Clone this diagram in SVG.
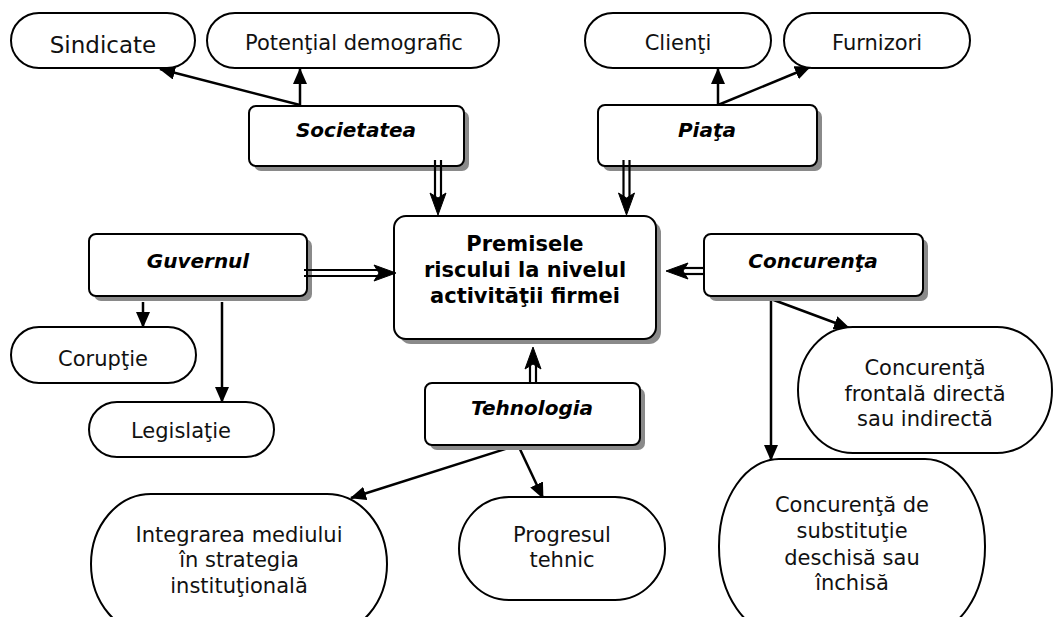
<svg xmlns="http://www.w3.org/2000/svg" width="1057" height="617" viewBox="0 0 1057 617">
  <style>
    .pill { fill: #fff; stroke: #000; stroke-width: 2; }
    .box { fill: #fff; stroke: #000; stroke-width: 2; }
    .shadow { fill: #8a8a8a; }
    .lbl { font-family: "DejaVu Sans", Verdana, sans-serif; font-size: 21px; fill: #111; text-anchor: middle; }
    .head { font-family: "DejaVu Sans", Verdana, sans-serif; font-size: 20px; font-weight: bold; font-style: italic; fill: #000; text-anchor: middle; }
    .core { font-family: "DejaVu Sans", Verdana, sans-serif; font-size: 21px; font-weight: bold; fill: #000; text-anchor: middle; }
    .link { stroke: #000; stroke-width: 2.5; fill: none; marker-end: url(#tri); }
    .rail { stroke: #000; stroke-width: 2.2; fill: none; }
    .barb { fill: #000; stroke: #000; stroke-width: 1; stroke-linejoin: round; }
  </style>
  <defs>
    <marker id="tri" viewBox="0 0 16 14" refX="15" refY="7" markerWidth="16" markerHeight="14" markerUnits="userSpaceOnUse" orient="auto">
      <path d="M0,0 L16,7 L0,14 Z" fill="#000"/>
    </marker>
    <!-- notched head for double-line arrows, tip at origin pointing +x -->
    <path id="dblhead" d="M0,0 L-22,-8 L-17,0 L-22,8 Z"/>
  </defs>

  <rect width="1057" height="617" fill="#fff"/>

  <!-- connectors -->
  <g id="connectors">
    <!-- Societatea -->
    <line class="link" x1="300" y1="105" x2="160" y2="69"/>
    <line class="link" x1="300" y1="105" x2="300" y2="69"/>
    <!-- Piata -->
    <line class="link" x1="718" y1="105" x2="718" y2="69"/>
    <line class="link" x1="718" y1="105" x2="810" y2="67"/>
    <!-- Guvernul -->
    <line class="link" x1="143" y1="302" x2="143" y2="327"/>
    <line class="link" x1="222" y1="302" x2="222" y2="402"/>
    <!-- Concurenta -->
    <line class="link" x1="771" y1="299" x2="771" y2="460"/>
    <line class="link" x1="771" y1="299" x2="849" y2="328"/>
    <!-- Tehnologia -->
    <line class="link" x1="518" y1="445" x2="351" y2="498"/>
    <line class="link" x1="518" y1="445" x2="543" y2="498"/>
  </g>

  <!-- central node -->
  <g id="premise">
    <rect class="shadow" x="399" y="221" width="262" height="123" rx="12"/>
    <rect class="box" x="394" y="216" width="262" height="123" rx="12"/>
    <text class="core" x="525" y="251">Premisele</text>
    <text class="core" x="525" y="277">riscului la nivelul</text>
    <text class="core" x="525" y="303">activităţii firmei</text>
  </g>

  <!-- factor nodes -->
  <g id="societatea">
    <rect class="shadow" x="254" y="111" width="215" height="60" rx="7"/>
    <rect class="box" x="249" y="106" width="215" height="60" rx="7"/>
    <text class="head" x="356" y="137">Societatea</text>
  </g>
  <g id="piata">
    <rect class="shadow" x="603" y="110" width="219" height="61" rx="7"/>
    <rect class="box" x="598" y="105" width="219" height="61" rx="7"/>
    <text class="head" x="707" y="137">Piaţa</text>
  </g>
  <g id="guvernul">
    <rect class="shadow" x="94" y="239" width="218" height="62" rx="7"/>
    <rect class="box" x="89" y="234" width="218" height="62" rx="7"/>
    <text class="head" x="198" y="268">Guvernul</text>
  </g>
  <g id="concurenta">
    <rect class="shadow" x="709" y="239" width="219" height="62" rx="7"/>
    <rect class="box" x="704" y="234" width="219" height="62" rx="7"/>
    <text class="head" x="813" y="268">Concurenţa</text>
  </g>
  <g id="tehnologia">
    <rect class="shadow" x="430" y="388" width="215" height="62" rx="7"/>
    <rect class="box" x="425" y="383" width="215" height="62" rx="7"/>
    <text class="head" x="532" y="415">Tehnologia</text>
  </g>

  <!-- double-line arrows into the central node -->
  <g id="double-arrows">
    <g id="dbl-soc">
      <line class="rail" x1="435" y1="160" x2="435" y2="200"/>
      <line class="rail" x1="441" y1="160" x2="441" y2="200"/>
      <use href="#dblhead" class="barb" transform="translate(438,215) rotate(90)"/>
    </g>
    <g id="dbl-pia">
      <line class="rail" x1="623.5" y1="160" x2="623.5" y2="200"/>
      <line class="rail" x1="629.5" y1="160" x2="629.5" y2="200"/>
      <use href="#dblhead" class="barb" transform="translate(626.5,215) rotate(90)"/>
    </g>
    <g id="dbl-guv">
      <line class="rail" x1="304" y1="270" x2="381" y2="270"/>
      <line class="rail" x1="304" y1="276" x2="381" y2="276"/>
      <use href="#dblhead" class="barb" transform="translate(396,273)"/>
    </g>
    <g id="dbl-con">
      <line class="rail" x1="704" y1="268" x2="681" y2="268"/>
      <line class="rail" x1="704" y1="274" x2="681" y2="274"/>
      <use href="#dblhead" class="barb" transform="translate(666,271) rotate(180)"/>
    </g>
    <g id="dbl-teh">
      <line class="rail" x1="530" y1="384" x2="530" y2="362"/>
      <line class="rail" x1="536" y1="384" x2="536" y2="362"/>
      <use href="#dblhead" class="barb" transform="translate(533,347) rotate(-90)"/>
    </g>
  </g>

  <!-- leaf nodes -->
  <g id="sindicate">
    <rect class="pill" x="11" y="13" width="184" height="55" rx="28" ry="27.5"/>
    <text class="lbl" x="103" y="53" style="font-size:23px">Sindicate</text>
  </g>
  <g id="potential">
    <rect class="pill" x="207" y="13" width="292" height="55" rx="28" ry="27.5"/>
    <text class="lbl" x="354" y="50">Potenţial demografic</text>
  </g>
  <g id="clienti">
    <rect class="pill" x="585" y="13" width="186" height="55" rx="28" ry="27.5"/>
    <text class="lbl" x="678" y="50">Clienţi</text>
  </g>
  <g id="furnizori">
    <rect class="pill" x="784" y="13" width="186" height="55" rx="28" ry="27.5"/>
    <text class="lbl" x="877" y="50">Furnizori</text>
  </g>
  <g id="coruptie">
    <rect class="pill" x="11" y="327" width="185" height="56" rx="28" ry="28"/>
    <text class="lbl" x="103" y="366">Corupţie</text>
  </g>
  <g id="legislatie">
    <rect class="pill" x="89" y="402" width="185" height="55" rx="28" ry="27.5"/>
    <text class="lbl" x="181" y="438">Legislaţie</text>
  </g>
  <g id="frontala">
    <rect class="pill" x="798" y="327" width="254" height="126" rx="55" ry="63"/>
    <text class="lbl" x="925" y="375">Concurenţă</text>
    <text class="lbl" x="925" y="401">frontală directă</text>
    <text class="lbl" x="925" y="426">sau indirectă</text>
  </g>
  <g id="substitutie">
    <rect class="pill" x="719" y="459" width="266" height="175" rx="60" ry="87"/>
    <text class="lbl" x="852" y="512">Concurenţă de</text>
    <text class="lbl" x="852" y="538">substituţie</text>
    <text class="lbl" x="852" y="565">deschisă sau</text>
    <text class="lbl" x="852" y="590">închisă</text>
  </g>
  <g id="integrarea">
    <rect class="pill" x="91" y="494" width="296" height="140" rx="60" ry="70"/>
    <text class="lbl" x="239" y="542">Integrarea mediului</text>
    <text class="lbl" x="239" y="567">în strategia</text>
    <text class="lbl" x="239" y="593">instituţională</text>
  </g>
  <g id="progresul">
    <rect class="pill" x="459" y="497" width="206" height="103" rx="50" ry="51.5"/>
    <text class="lbl" x="562" y="542">Progresul</text>
    <text class="lbl" x="562" y="567">tehnic</text>
  </g>
</svg>
